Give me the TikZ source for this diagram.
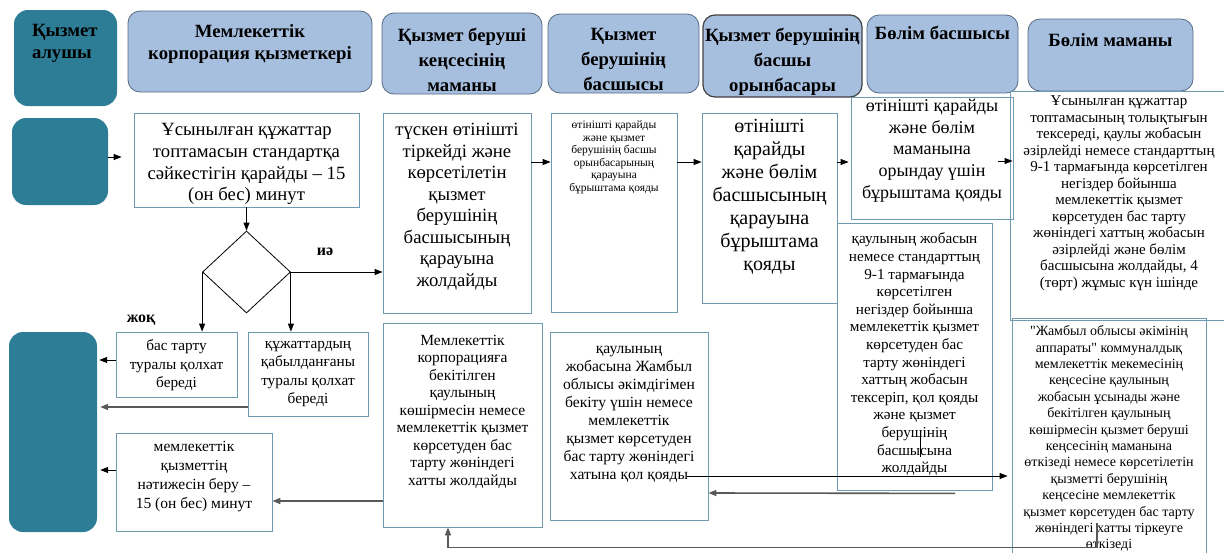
\documentclass[tikz,border=0pt]{standalone}
\usepackage{fontspec}
\setmainfont{Liberation Serif}[Ligatures=TeXOff]
\usetikzlibrary{arrows.meta, calc, positioning, shapes.geometric}
\definecolor{tealbox}{RGB}{46,125,150}
\definecolor{hdrblue}{RGB}{167,191,223}
\definecolor{hdrline}{RGB}{85,105,130}
\definecolor{boxline}{RGB}{110,155,175}
\newcommand{\fs}[2]{\fontsize{#1}{#2}\selectfont}
% width, height, top padding, text
\newcommand{\cell}[4]{\parbox[c][#2pt][t]{#1pt}{\vspace*{#3pt}\centering #4\par}}

\begin{document}
\begin{tikzpicture}[x=1pt, y=-1pt,
    box/.style={draw=boxline, line width=0.8pt, inner sep=0pt},
    hdr/.style={draw=hdrline, fill=hdrblue, rounded corners=12pt, line width=0.8pt, inner sep=0pt, font=\fs{18.7}{22}\bfseries},
    client/.style={fill=tealbox, rounded corners=14pt, inner sep=0pt},
    arr/.style={-{Triangle[length=8pt,width=6pt]}, line width=1pt},
    arrg/.style={-{Triangle[length=8pt,width=6pt]}, line width=1.6pt, draw=black!65},
    tag/.style={font=\fs{16}{18}\bfseries}]
    \useasboundingbox (0,0) rectangle (1224,552);

    % header row
    \node[client] (cli) at (65.5,58) {\parbox[c][96pt][t]{103pt}{\vspace*{14pt}\fs{18.7}{22}\bfseries\raggedright\leftskip=18pt Қызмет\\алушы\par}};
    \node[hdr] (h1) at (250,51.5) {\cell{244}{81}{13.4}{Мемлекеттік\\корпорация қызметкері}};
    \node[hdr, font=\fs{18.7}{25}\bfseries] (h2) at (462,53.5) {\cell{160}{81}{15.4}{Қызмет беруші\\кеңсесінің\\маманы}};
    \node[hdr, font=\fs{18.7}{25}\bfseries] (h3) at (623.5,53.5) {\cell{151}{79}{14.4}{Қызмет\\берушінің\\басшысы}};
    \node[hdr, font=\fs{18.7}{25}\bfseries, draw=black!75, line width=1.2pt] (h4) at (782.5,56) {\cell{159}{82}{13.4}{Қызмет берушінің\\басшы\\орынбасары}};
    \node[hdr] (h5) at (942.5,54) {\cell{151}{78}{11.4}{Бөлім басшысы}};
    \node[hdr] (h6) at (1110.5,55) {\cell{165}{72}{14.4}{Бөлім маманы}};

    % clients
    \node[client, minimum width=96pt, minimum height=87pt] (cli2) at (60,161.5) {};
    \node[client, minimum width=88pt, minimum height=200pt] (cli3) at (53,432) {};

    % first column
    \node[box, font=\fs{18.7}{21.7}] (A) at (246.5,160) {\cell{225}{94}{10.4}{Ұсынылған құжаттар\\топтамасын стандартқа\\сәйкестігін қарайды – 15\\(он бес) минут}};
    \node[draw, diamond, minimum width=88pt, minimum height=82pt, inner sep=0pt, line width=0.8pt] (dec) at (246.5,272) {};
    \node[tag] (yes) at (325,252) {иә};
    \node[tag] (no) at (141,320) {жоқ};
    \node[box, font=\fs{15.3}{18.5}] (R1) at (176.5,364.5) {\cell{121}{65}{8}{бас тарту\\туралы қолхат\\береді}};
    \node[box, font=\fs{15.3}{18.5}] (R2) at (308,374) {\cell{120}{84}{9}{құжаттардың\\қабылданғаны\\туралы қолхат\\береді}};
    \node[box, font=\fs{15.5}{19}] (R3) at (194,482) {\cell{156}{98}{8}{мемлекеттік\\қызметтің\\нәтижесін беру –\\15 (он бес) минут}};

    % office columns
    \node[box, font=\fs{18.7}{21.5}] (B) at (457,213) {\cell{148}{200}{10.4}{түскен өтінішті\\тіркейді және\\көрсетілетін\\қызмет\\берушінің\\басшысының\\қарауына\\жолдайды}};
    \node[box, font=\fs{15.5}{17.5}] (M) at (462.5,425) {\cell{159}{204}{12}{Мемлекеттік\\корпорацияға\\бекітілген\\қаулының\\көшірмесін немесе\\мемлекеттік қызмет\\көрсетуден бас\\тарту жөніндегі\\хатты жолдайды}};
    \node[box, font=\fs{11.5}{12.5}] (C) at (614,212.5) {\cell{126}{199}{8}{өтінішті қарайды\\және қызмет\\берушінің басшы\\орынбасарының\\қарауына\\бұрыштама қояды}};
    \node[box, font=\fs{15.6}{18}] (N) at (629,426) {\cell{158}{188}{14}{қаулының\\жобасына Жамбыл\\облысы әкімдігімен\\бекіту үшін немесе\\мемлекеттік\\қызмет көрсетуден\\бас тарту жөніндегі\\хатына қол қояды}};
    \node[box, font=\fs{20}{23}] (D) at (769.5,208) {\cell{135}{190}{5.8}{өтінішті\\қарайды\\және бөлім\\басшысының\\қарауына\\бұрыштама\\қояды}};
    \node[box, font=\fs{15}{16.5}] (F) at (1119,205.5) {\cell{218}{229}{5}{Ұсынылған құжаттар\\топтамасының толықтығын\\тексереді, қаулы жобасын\\әзірлейді немесе стандарттың\\9-1 тармағында көрсетілген\\негіздер бойынша\\мемлекеттік қызмет\\көрсетуден бас тарту\\жөніндегі хаттың жобасын\\әзірлейді және бөлім\\басшысына жолдайды, 4\\(төрт) жұмыс күн ішінде}};
    \node[box, font=\fs{18}{21.7}] (E) at (932,158) {\cell{162}{122}{2}{өтінішті қарайды\\және бөлім\\маманына\\орындау үшін\\бұрыштама қояды}};
    \node[box, font=\fs{15.2}{17.6}] (G) at (914.5,356.5) {\cell{155}{267}{10}{қаулының жобасын\\немесе стандарттың\\9-1 тармағында\\көрсетілген\\негіздер бойынша\\мемлекеттік қызмет\\көрсетуден бас\\тарту жөніндегі\\хаттың жобасын\\тексеріп, қол қояды\\және қызмет\\берушінің\\басшысына\\жолдайды}};
    \node[box, font=\fs{14}{16.4}] (H) at (1109,440) {\cell{194}{244}{7.6}{"Жамбыл облысы әкімінің\\аппараты" коммуналдық\\мемлекеттік мекемесінің\\кеңсесіне қаулының\\жобасын ұсынады және\\бекітілген қаулының\\көшірмесін қызмет беруші\\кеңсесінің маманына\\өткізеді немесе көрсетілетін\\қызметті берушінің\\кеңсесіне мемлекеттік\\қызмет көрсетуден бас тарту\\жөніндегі хатты тіркеуге\\өткізеді}};

    % connectors
    \draw[arr, shorten >=12pt] ($(cli2.east)+(0,-4.5)$) -- ($(A.west)+(0,-3)$);
    \draw[arr] (A.south) -- (dec.north);
    \draw[arr] (dec.east) -- (dec.east -| B.west);
    \draw[arr] (dec.west) -- (dec.west |- R1.north);
    \draw[arr] (dec.east) -- (dec.east |- R2.north);
    \draw[arr, shorten >=2pt] ($(R1.west)+(0,-4.5)$) -- ($(cli3.east)+(0,-72)$);
    \draw[arrg, shorten >=3pt] ($(R2.west)+(0,33)$) -- ($(cli3.east)+(0,-25)$);
    \draw[arr, shorten >=3pt] ($(R3.west)+(0,-12)$) -- ($(cli3.east)+(0,38)$);
    \draw[arrg] ($(M.west)+(0,76)$) -- ($(R3.east)+(0,19)$);
    \draw[arr] ($(B.east)+(0,-51)$) -- ($(C.west)+(0,-50.5)$);
    \draw[arr] ($(C.east)+(0,-50.5)$) -- ($(D.west)+(0,-46)$);
    \draw[arr, shorten >=2pt] ($(D.east)+(0,-46)$) -- ($(E.west)+(0,4)$);
    \draw[arr] ($(E.east)+(-15,3)$) -- ($(F.west)+(3,-44.5)$);
    \draw[arr, line width=0.8pt, shorten >=4pt] ($(N.east)+(-21,50)$) -- ($(H.west)+(0,36)$);
    \draw[arrg] ($(G.south)+(40.5,3)$) -- ($(N.east)+(0,67)$);
    \draw[line width=0.8pt] ($(G.south)+(5.5,-57)$) -- ($(G.south)+(5.5,-33)$);
    \draw[arrg] ($(H.north)+(-12,205)$) -- ++(0,25) -| ($(M.south)+(-14.5,0)$);
\end{tikzpicture}
\end{document}
